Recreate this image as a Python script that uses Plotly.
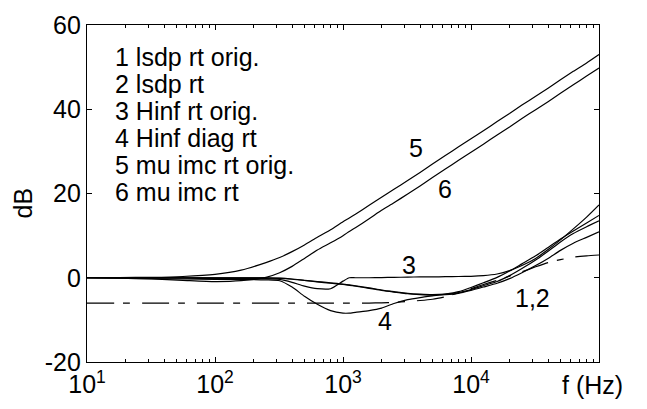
import plotly.graph_objects as go

freq = [10, 18, 32, 56, 100, 160, 250, 320, 400, 500, 630, 800, 1000, 1120, 1250, 1600,
        2000, 2500, 3200, 4000, 5000, 6300, 8000, 10000, 12500, 16000, 20000, 25000,
        32000, 40000, 50000, 63000, 80000, 100000]

lsdp_rt_orig = [0, 0, 0, 0, 0, 0, -0.05, -0.1, -0.3, -0.6, -0.9, -1.2, -1.5, -1.7, -1.9, -2.4,
                -2.9, -3.3, -3.7, -3.9, -4.0, -3.9, -3.5, -2.8, -1.9, -0.9, 0.5, 2.2,
                4.2, 6.3, 8.5, 10.5, 12.1, 13.5]
lsdp_rt = [0, 0, 0, 0, 0, 0, -0.05, -0.15, -0.35, -0.65, -1.0, -1.3, -1.6, -1.8, -2.0, -2.5,
           -3.0, -3.4, -3.8, -4.0, -4.1, -4.0, -3.7, -3.0, -2.2, -1.3, -0.2, 1.2,
           2.9, 4.6, 6.5, 8.2, 9.6, 10.9]
hinf_rt_orig = [0, 0, 0, -0.1, -0.2, -0.2, -0.2, -0.4, -1.1, -2.0, -2.6, -2.6, -0.8, 0.0, 0.0, 0.0,
                0.05, 0.1, 0.15, 0.2, 0.2, 0.25, 0.3, 0.35, 0.5, 0.9, 1.7, 2.9,
                4.6, 6.7, 9.0, 11.6, 14.4, 17.3]
hinf_diag_rt = [0, -0.1, -0.2, -0.3, -0.4, -0.4, -0.5, -0.7, -2.2, -4.4, -6.3, -7.8, -8.4, -8.4, -8.2, -7.8,
                -7.2, -6.1, -5.2, -4.7, -4.3, -3.9, -3.3, -2.3, -1.2, 0.1, 1.6, 3.3,
                5.2, 7.2, 9.2, 11.1, 13.0, 14.8]
mu_imc_rt_orig = [0, 0.05, 0.1, 0.3, 0.8, 1.8, 3.6, 4.8, 6.2, 7.8, 9.6, 11.4, 13.3, 14.2, 15.1, 17.2,
                  19.1, 21.0, 23.1, 25.0, 27.0, 29.0, 31.1, 33.0, 34.9, 37.1, 39.0, 41.0,
                  43.1, 45.0, 47.0, 49.0, 51.0, 53.0]
mu_imc_rt = [0, -0.1, -0.3, -0.6, -0.9, -0.7, 0.1, 1.2, 2.7, 4.6, 6.6, 8.3, 10.0, 11.0, 11.9, 14.0,
             16.0, 17.8, 19.9, 21.8, 23.8, 25.8, 27.9, 29.8, 31.7, 33.9, 35.8, 37.8,
             39.9, 41.8, 43.8, 45.8, 47.9, 49.8]
bound = [-6.0, -6.0, -6.0, -6.0, -6.0, -6.0, -6.0, -6.0, -6.0, -6.0, -6.0, -6.0, -6.0, -6.0, -6.0, -6.0,
         -5.95, -5.85, -5.6, -5.4, -5.1, -4.5, -3.6, -2.6, -1.6, -0.6, 0.4, 1.4,
         2.6, 3.6, 4.3, 4.9, 5.2, 5.4]

legend_lines = ["1 lsdp rt orig.", "2 lsdp rt", "3 Hinf rt orig.", "4 Hinf diag rt",
                "5 mu imc rt orig.", "6 mu imc rt"]
x_tickvals = [10, 100, 1000, 10000, 100000]
x_ticktext = ["10<sup>1</sup>", "10<sup>2</sup>", "10<sup>3</sup>", "10<sup>4</sup>", ""]
y_tickvals = [-20, 0, 20, 40, 60]
y_ticktext = ["-20", "0", "20", "40", "60"]
minor_vals = [m * d for d in (10, 100, 1000, 10000) for m in range(2, 10)]

FONT = "Liberation Sans, Arial, sans-serif"
FS = 25

fig = go.Figure()
for ys in [lsdp_rt_orig, lsdp_rt, hinf_rt_orig, hinf_diag_rt, mu_imc_rt_orig, mu_imc_rt]:
    fig.add_trace(go.Scatter(x=freq, y=ys, mode="lines",
                             line=dict(color="black", width=1.2, shape="spline", smoothing=0.6),
                             showlegend=False, hoverinfo="skip"))
fig.add_trace(go.Scatter(x=freq, y=bound, mode="lines",
                         line=dict(color="black", width=1.2, dash="27px,9px,7px,12px",
                                   shape="spline", smoothing=0.6),
                         showlegend=False, hoverinfo="skip"))

axis_common = dict(showgrid=False, zeroline=False, showline=True, linecolor="black",
                   linewidth=1.3, mirror="ticks", ticks="inside", ticklen=5,
                   tickcolor="black", tickwidth=1, ticklabeloverflow="allow",
                   tickfont=dict(family=FONT, size=FS, color="black"))

fig.update_xaxes(type="log", range=[1, 5], tickvals=x_tickvals, ticktext=x_ticktext,
                 minor=dict(tickvals=minor_vals, ticks="inside", ticklen=3,
                            tickcolor="black", showgrid=False),
                 **axis_common)
fig.update_yaxes(range=[-20, 60.01], tickvals=y_tickvals, ticktext=y_ticktext, **axis_common)

ann = []
for i, t in enumerate(legend_lines):
    ann.append(dict(x=113, y=45 + 28.6 * i, text=t, xanchor="left", angle=0))
labels = [("5", 416, 141), ("6", 445, 185), ("3", 409, 265), ("4", 385, 325),
          ("1,2", 532, 300), ("f (Hz)", 592, 392)]
for t, x, y in labels:
    ann.append(dict(x=x, y=y, text=t, xanchor="center", angle=0))
ann.append(dict(x=23, y=200, text="dB", xanchor="center", angle=-90))

W, H = 647, 409
L, R, T, B = 87, 48, 11, 41
pw, ph = W - L - R, H - T - B
annotations = []
for a in ann:
    annotations.append(dict(x=(a["x"] - L) / pw, y=1 - (a["y"] - T) / ph,
                            xref="paper", yref="paper", text=a["text"],
                            xanchor=a["xanchor"], yanchor="middle", showarrow=False,
                            textangle=a["angle"],
                            font=dict(family=FONT, size=FS, color="black")))

fig.update_layout(width=W, height=H, margin=dict(l=L, r=R, t=T, b=B),
                  paper_bgcolor="white", plot_bgcolor="white", annotations=annotations)

fig.write_html("out.html", config={"displayModeBar": False},
               post_script="document.body.style.margin='0';document.body.style.overflow='hidden';")
